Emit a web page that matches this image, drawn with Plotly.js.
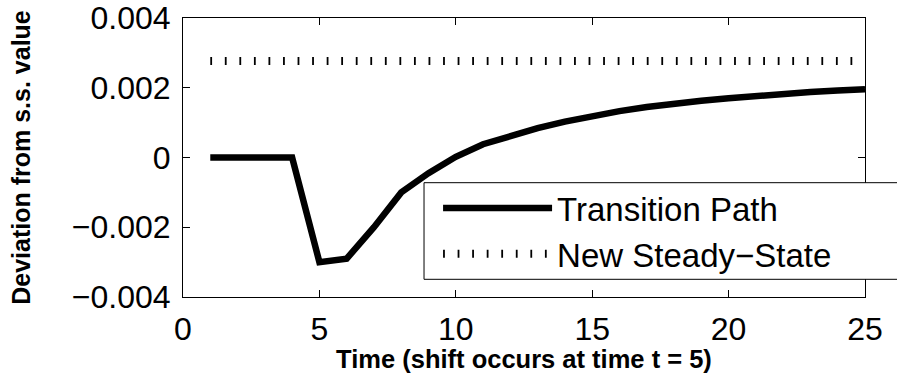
<!DOCTYPE html>
<html>
<head>
<meta charset="utf-8">
<script src="https://cdn.plot.ly/plotly-3.0.1.min.js"></script>
<style>
  html, body { margin: 0; padding: 0; background: #fff; }
  #chart { width: 897px; height: 373px; }
</style>
</head>
<body>
<div id="chart"></div>
<script>
// ---- data ----
const time = [1, 2, 3, 4, 5, 6, 7, 8, 9, 10, 11, 12, 13, 14, 15, 16, 17, 18, 19, 20, 21, 22, 23, 24, 25];
const transitionPath = [0, 0, 0, 0, -0.0030, -0.0029, -0.0020, -0.0010, -0.00045, 0.00002,
  0.00038, 0.00062, 0.00084, 0.00103, 0.00119, 0.00133, 0.00145, 0.00155, 0.00163,
  0.00170, 0.00177, 0.00183, 0.00188, 0.00192, 0.00196];
const newSteadyState = [0.00277, 0.00277, 0.00277, 0.00277, 0.00277, 0.00277, 0.00277,
  0.00277, 0.00277, 0.00277, 0.00277, 0.00277, 0.00277, 0.00277, 0.00277, 0.00277,
  0.00277, 0.00277, 0.00277, 0.00277, 0.00277, 0.00277, 0.00277, 0.00277, 0.00277];
const seriesNames = ['Transition Path', 'New Steady\u2212State'];
const xTickVals = [0, 5, 10, 15, 20, 25];
const yTickVals = [0.004, 0.002, 0, -0.002, -0.004];
const yTickText = ['0.004', '0.002', '0', '\u22120.002', '\u22120.004'];
const xTitle = 'Time (shift occurs at time t = 5)';
const yTitle = 'Deviation from s.s. value';

const FONT = 'Liberation Sans, Arial, Helvetica, sans-serif';

const traces = [
  {
    x: time, y: transitionPath, name: seriesNames[0],
    type: 'scatter', mode: 'lines',
    line: { color: '#000', width: 6.5 }
  },
  {
    x: time, y: newSteadyState, name: seriesNames[1],
    type: 'scatter', mode: 'lines',
    line: { color: '#000', width: 8, dash: '1.8px,12.75px' }
  }
];

const layout = {
  width: 897, height: 373,
  margin: { l: 183, r: 32, t: 18, b: 76 },
  paper_bgcolor: '#fff', plot_bgcolor: '#fff',
  font: { family: FONT, color: '#000' },
  showlegend: true,
  legend: {
    x: 0.374, xanchor: 'left', y: 0.4194, yanchor: 'top',
    bgcolor: 'rgba(0,0,0,0)', borderwidth: 0,
    itemwidth: 109,
    font: { family: FONT, size: 33, color: '#000' }
  },
  xaxis: {
    range: [0, 25], tickmode: 'array', tickvals: xTickVals,
    ticks: 'inside', ticklen: 7, tickcolor: '#000', tickwidth: 1,
    showline: true, linecolor: '#000', linewidth: 1, mirror: 'ticks',
    showgrid: false, zeroline: false,
    tickfont: { family: FONT, size: 32, color: '#000' },
    ticklabelstandoff: 4,
    title: { text: xTitle, font: { family: FONT, size: 25.5, weight: 'bold', color: '#000' }, standoff: 3 },
    automargin: false
  },
  yaxis: {
    range: [-0.004, 0.004], tickmode: 'array', tickvals: yTickVals, ticktext: yTickText,
    ticks: 'inside', ticklen: 7, tickcolor: '#000', tickwidth: 1,
    showline: true, linecolor: '#000', linewidth: 1, mirror: 'ticks',
    showgrid: false, zeroline: false,
    tickfont: { family: FONT, size: 32, color: '#000' },
    ticklabelstandoff: 5,
    title: { text: yTitle, font: { family: FONT, size: 25, weight: 'bold', color: '#000' }, standoff: 34 },
    automargin: false
  },
  shapes: [
    {
      type: 'rect', xref: 'paper', yref: 'paper',
      x0: 0.3534, x1: 1.2, y0: 0.0634, y1: 0.4097,
      line: { color: '#000', width: 1 }, fillcolor: '#fff', layer: 'above'
    }
  ]
};

Plotly.newPlot('chart', traces, layout, { displayModeBar: false, staticPlot: true });
</script>
</body>
</html>
